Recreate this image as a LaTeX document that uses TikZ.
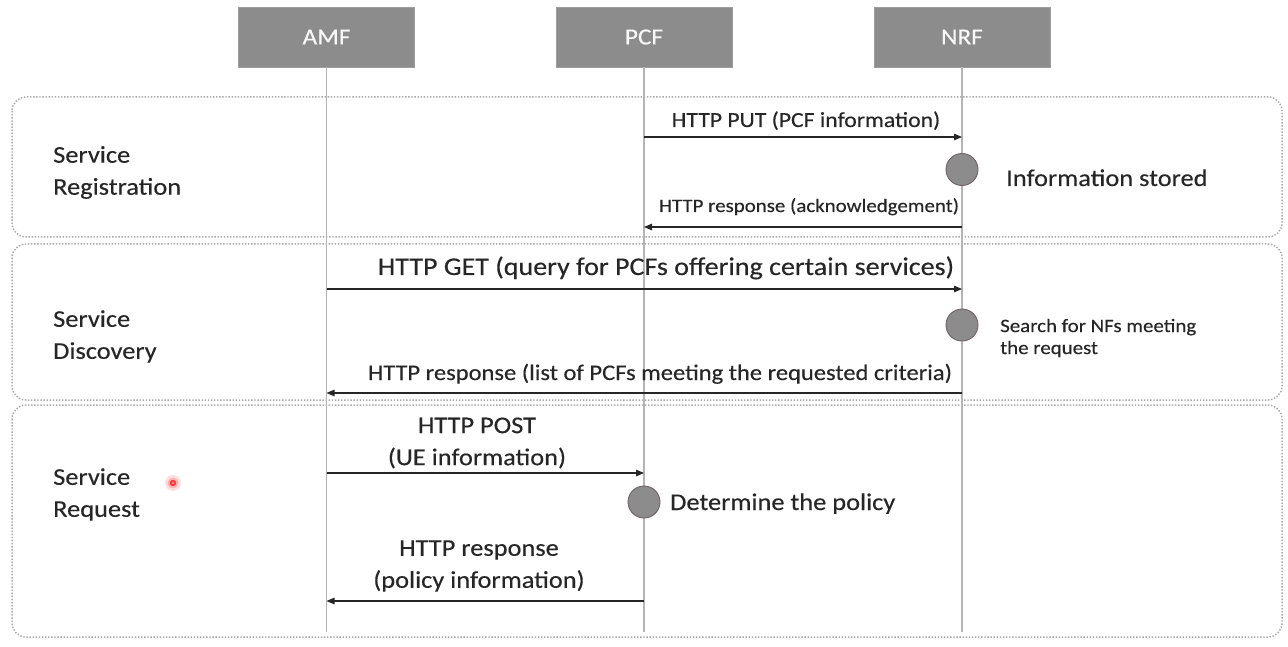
\documentclass[tikz,border=0pt]{standalone}
\usepackage{fontspec}
\setmainfont{Carlito}[FakeStretch=1.1,FakeBold=0.3]
\usetikzlibrary{arrows.meta}
\definecolor{hdr}{HTML}{8C8C8C}
\definecolor{life}{HTML}{B4B4B4}
\definecolor{frame}{HTML}{A8A8A8}
\definecolor{ink}{HTML}{262626}
\definecolor{actedge}{HTML}{6E6262}
\newcommand{\fsz}[2]{\fontsize{#1}{#2}\selectfont}
\begin{document}
\begin{tikzpicture}[x=1pt,y=-1pt,
  hdrbox/.style={fill=hdr,draw=hdr!85!white,line width=0.8pt,minimum width=176pt,minimum height=60pt,
    inner sep=0pt,text=white!94!hdr,font=\fsz{23}{26}},
  phase/.style={draw=frame,line width=1.5pt,dash pattern=on 1.4pt off 1.7pt,rounded corners=14pt},
  lifeline/.style={draw=life,line width=1.3pt},
  msg/.style={draw=ink,line width=1.1pt,-{Triangle[length=8pt,width=6.5pt]}},
  act/.style={circle,fill=hdr,draw=actedge,line width=0.9pt,minimum size=32pt,inner sep=0pt},
  lbl/.style={text=ink,inner sep=0pt},
  phaselbl/.style={lbl,anchor=west,align=left,font=\fsz{24}{32}}
]
\useasboundingbox (0,0) rectangle (1288,647);

% phase frames
\draw[phase] (12,97) rectangle (1282,237);
\draw[phase] (12,244) rectangle (1282,400);
\draw[phase] (12,405) rectangle (1282,637);

% participants
\node[hdrbox] (amf) at (326.5,37) {AMF};
\node[hdrbox] (pcf) at (644,37) {PCF};
\node[hdrbox] (nrf) at (962,37) {NRF};

% lifelines
\coordinate (amfEnd) at (amf.south |- 0,632);
\coordinate (pcfEnd) at (pcf.south |- 0,632);
\coordinate (nrfEnd) at (nrf.south |- 0,632);
\draw[lifeline] (amf.south) -- (amfEnd);
\draw[lifeline] (pcf.south) -- (pcfEnd);
\draw[lifeline] (nrf.south) -- (nrfEnd);

% message anchor points on the lifelines
\coordinate (pcf1) at (pcf.south |- 0,137);
\coordinate (nrf1) at (nrf.south |- 0,137);
\coordinate (nrf2) at (nrf.south |- 0,227);
\coordinate (pcf2) at (pcf.south |- 0,227);
\coordinate (amf3) at (amf.south |- 0,289);
\coordinate (nrf3) at (nrf.south |- 0,289);
\coordinate (nrf4) at (nrf.south |- 0,393);
\coordinate (amf4) at (amf.south |- 0,393);
\coordinate (amf5) at (amf.south |- 0,473);
\coordinate (pcf5) at (pcf.south |- 0,473);
\coordinate (pcf6) at (pcf.south |- 0,601);
\coordinate (amf6) at (amf.south |- 0,601);

% activity markers
\node[act] (store) at (962,169.5) {};
\node[act] (search) at (962,325) {};
\node[act] (decide) at (644,502) {};

% phase titles
\node[phaselbl] (regLbl) at (53,172.5) {Service\\Registration};
\node[phaselbl] (discLbl) at (53,336.5) {Service\\Discovery};
\node[phaselbl] (reqLbl) at (53,494.5) {Service\\Request};

% service registration
\draw[msg] (pcf1) -- (nrf1);
\node[lbl,anchor=base,font=\fsz{21.5}{26}] (putLbl) at (806,127) {HTTP PUT (PCF information)};
\node[lbl,anchor=base west,font=\fsz{24}{30}] (storeLbl) at (1006,186) {Information stored};
\draw[msg] (nrf2) -- (pcf2);
\node[lbl,anchor=base,font=\fsz{19}{24}] (ackLbl) at (809,212) {HTTP response (acknowledgement)};

% service discovery
\draw[msg] (amf3) -- (nrf3);
\node[lbl,anchor=base,font=\fsz{25.5}{30}] (getLbl) at (666,275) {HTTP GET (query for PCFs offering certain services)};
\node[lbl,anchor=west,align=left,font=\fsz{19}{22}] (searchLbl) at (1000,338) {Search for NFs meeting\\the request};
\draw[msg] (nrf4) -- (amf4);
\node[lbl,anchor=base,font=\fsz{22.3}{26}] (listLbl) at (660,380) {HTTP response (list of PCFs meeting the requested criteria)};

% service request
\draw[msg] (amf5) -- (pcf5);
\node[lbl,align=center,font=\fsz{24}{32}] (postLbl) at (477,443) {HTTP POST\\(UE information)};
\node[lbl,anchor=base west,font=\fsz{24}{30}] (decideLbl) at (670,510) {Determine the policy};
\draw[msg] (pcf6) -- (amf6);
\node[lbl,align=center,font=\fsz{24}{32}] (policyLbl) at (479,566) {HTTP response\\(policy information)};

% pointer spot
\fill[red!12] (173,483) circle (8);
\fill[red!30] (173,483) circle (5.5);
\fill[red!80] (173,483) circle (3.2);
\fill[red!45] (173,483) circle (1.3);
\end{tikzpicture}
\end{document}
